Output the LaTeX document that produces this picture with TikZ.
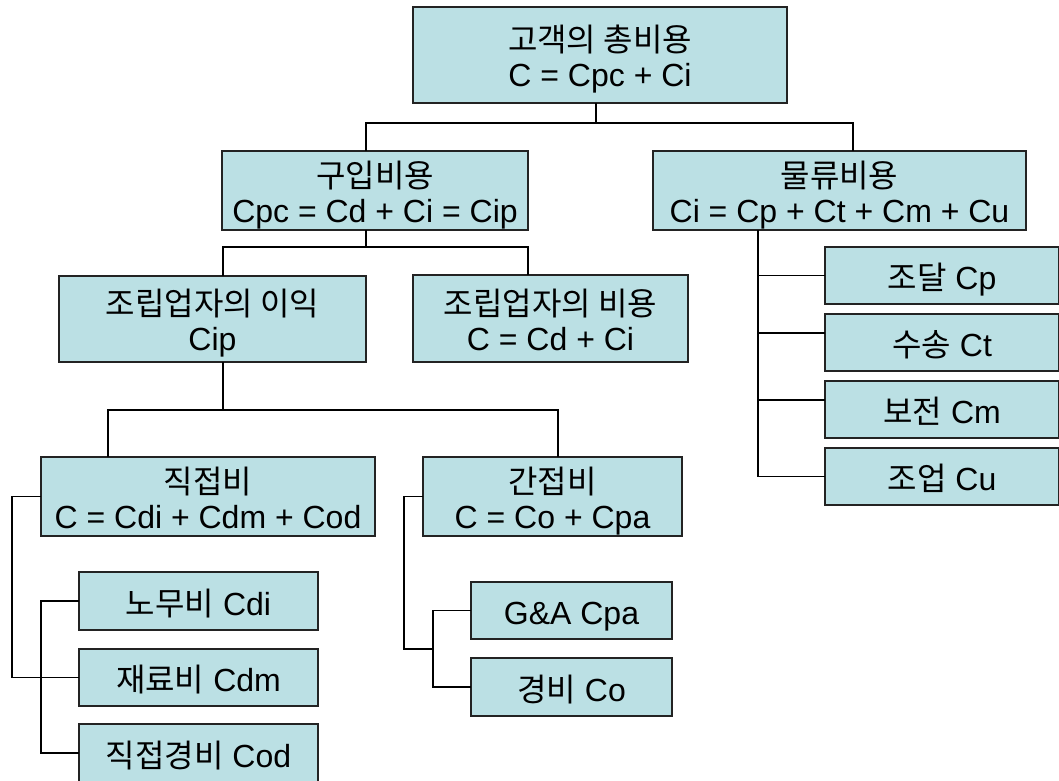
\documentclass[tikz,border=0pt]{standalone}
\usepackage{fontspec}
\setmainfont{Liberation Sans}
\newfontfamily\krfont{Noto Sans CJK KR}
\newcommand\kr{\krfont\fontsize{32}{35}\selectfont}
\newcommand\sT{\rule{0pt}{36pt}}
\newcommand\sB{\rule[-8pt]{0pt}{8pt}}
\definecolor{boxfill}{RGB}{187,224,228}
\definecolor{boxline}{RGB}{35,35,35}
\begin{document}
\begin{tikzpicture}[x=1pt,y=-1pt,
  box/.style={draw=boxline, fill=boxfill, line width=1.6pt, inner sep=0pt, outer sep=0pt,
    align=center, anchor=north west, font=\fontsize{32}{35}\selectfont},
  conn/.style={draw=black, line width=1.8pt}]
\fill[white] (0,0) rectangle (1059,780);
\useasboundingbox (0,0) rectangle (1059,780);

% boxes
\node[box, minimum width=374pt, minimum height=96pt] (top) at (413,7) {\sT{\kr 고객의 총비용}\\C = Cpc + Ci\sB};
\node[box, minimum width=306pt, minimum height=77pt] (gou) at (222,151) {\sT{\kr 구입비용}\\Cpc = Cd + Ci = Cip\sB};
\node[box, minimum width=373pt, minimum height=77pt] (mul) at (653,151) {\sT{\kr 물류비용}\\Ci = Cp + Ct + Cm + Cu\sB};
\node[box, minimum width=307pt, minimum height=86pt] (ik) at (59,276) {\sT{\kr 조립업자의 이익}\\Cip\sB};
\node[box, minimum width=275pt, minimum height=87pt] (bi) at (413,275) {\sT{\kr 조립업자의 비용}\\C = Cd + Ci\sB};
\node[box, minimum width=334pt, minimum height=77pt] (jik) at (41,457) {\sT{\kr 직접비}\\C = Cdi + Cdm + Cod\sB};
\node[box, minimum width=259pt, minimum height=77pt] (gan) at (423,457) {\sT{\kr 간접비}\\C = Co + Cpa\sB};
\node[box, minimum width=239pt, minimum height=58pt] (nomu) at (79,572) {\sT{\kr 노무비} Cdi\sB};
\node[box, minimum width=239pt, minimum height=57pt] (jaeryo) at (79,649) {\sT{\kr 재료비} Cdm\sB};
\node[box, minimum width=239pt, minimum height=58pt] (jikgyeong) at (79,724) {\sT{\kr 직접경비} Cod\sB};
\node[box, minimum width=201pt, minimum height=57pt] (gna) at (471,582) {\sT G\&A Cpa\sB};
\node[box, minimum width=201pt, minimum height=58pt] (gyeong) at (471,658) {\sT{\kr 경비} Co\sB};
\node[box, minimum width=234pt, minimum height=57pt] (jodal) at (825,247) {\sT{\kr 조달} Cp\sB};
\node[box, minimum width=234pt, minimum height=57pt] (susong) at (825,314) {\sT{\kr 수송} Ct\sB};
\node[box, minimum width=234pt, minimum height=57pt] (bojeon) at (825,381) {\sT{\kr 보전} Cm\sB};
\node[box, minimum width=234pt, minimum height=57pt] (joeop) at (825,448) {\sT{\kr 조업} Cu\sB};

% connectors
\coordinate (j0) at (596,123);
\coordinate (jA) at (366,123);
\coordinate (jB) at (853,123);
\draw[conn] (top.south -| j0) -- (j0);
\draw[conn] (gou.north -| jA) -- (jA) -- (jB) -- (mul.north -| jB);

\coordinate (k0) at (366,247);
\coordinate (k1) at (223,247);
\coordinate (k2) at (528,247);
\draw[conn] (gou.south -| k0) -- (k0);
\draw[conn] (ik.north -| k1) -- (k1) -- (k2) -- (bi.north -| k2);

\coordinate (m0) at (223,410);
\coordinate (m1) at (108,410);
\coordinate (m2) at (558,410);
\draw[conn] (ik.south -| m0) -- (m0);
\draw[conn] (jik.north -| m1) -- (m1) -- (m2) -- (gan.north -| m2);

\coordinate (n1) at (12,677.5);
\draw[conn] (jik.west) -| (n1) -- (jaeryo.west);
\coordinate (n2) at (41,601);
\coordinate (n3) at (41,753);
\draw[conn] (nomu.west) -- (n2) -- (n3) -- (jikgyeong.west);

\coordinate (p1) at (404,649);
\coordinate (p2) at (433,649);
\coordinate (p3) at (433,610.5);
\coordinate (p4) at (433,687);
\draw[conn] (gan.west) -| (p1) -- (p2);
\draw[conn] (gna.west) -- (p3) -- (p4) -- (gyeong.west);

\coordinate (q0) at (758,476.5);
\coordinate (s2) at ([yshift=9.5pt]susong.west);
\coordinate (s3) at ([yshift=9.5pt]bojeon.west);
\draw[conn] (mul.south -| q0) -- (q0) -- (joeop.west);
\draw[conn] (jodal.west) -- (jodal.west -| q0);
\draw[conn] (s2) -- (s2 -| q0);
\draw[conn] (s3) -- (s3 -| q0);
\end{tikzpicture}
\end{document}
